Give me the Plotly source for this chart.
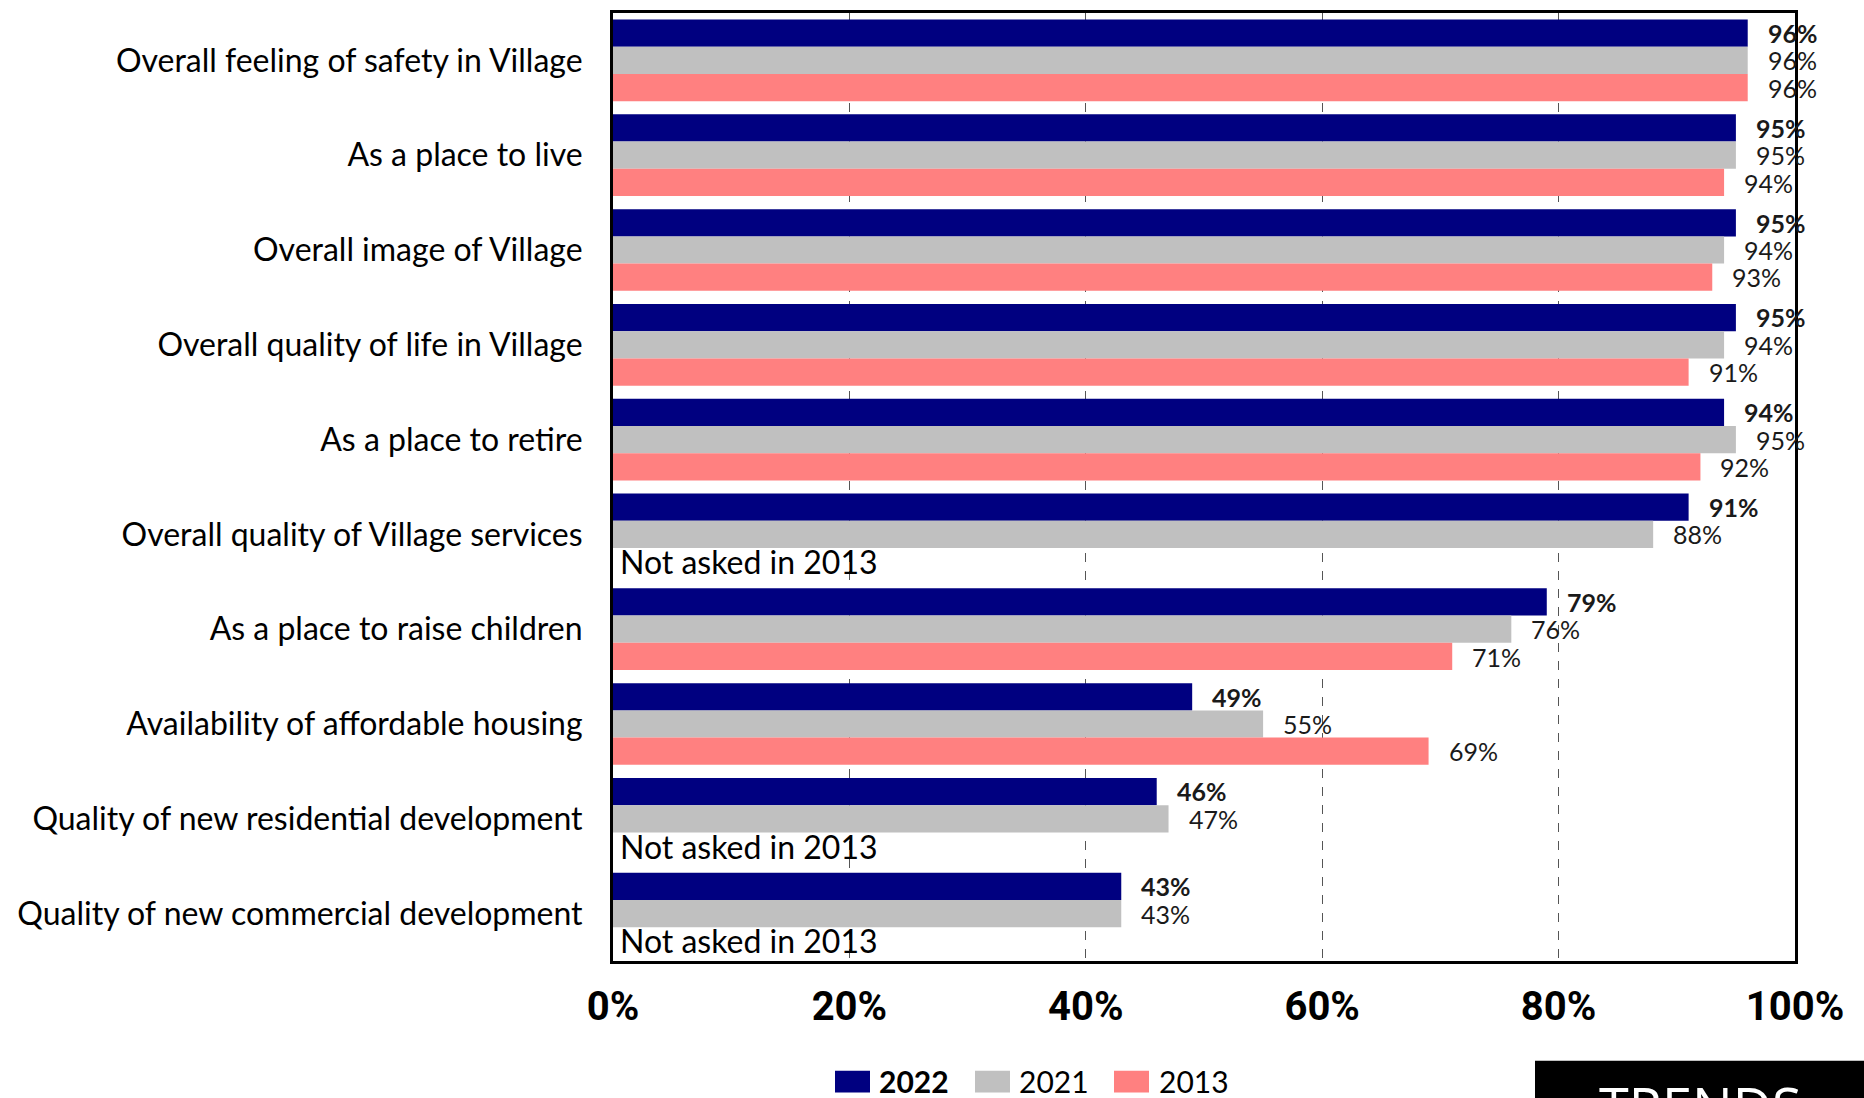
import plotly.graph_objects as go

# Survey items, listed top to bottom
categories = [
    "Overall feeling of safety in Village",
    "As a place to live",
    "Overall image of Village",
    "Overall quality of life in Village",
    "As a place to retire",
    "Overall quality of Village services",
    "As a place to raise children",
    "Availability of affordable housing",
    "Quality of new residential development",
    "Quality of new commercial development",
]

# Percent positive by survey year (None = item not asked that year)
vals_2022 = [96, 95, 95, 95, 94, 91, 79, 49, 46, 43]
vals_2021 = [96, 95, 94, 94, 95, 88, 76, 55, 47, 43]
vals_2013 = [96, 94, 93, 91, 92, None, 71, 69, None, None]

series_names = ["2022", "2021", "2013"]
series_colors = ["#000080", "#C0C0C0", "#FF8080"]
series_values = [vals_2022, vals_2021, vals_2013]

x_ticks = [0, 20, 40, 60, 80, 100]
x_tick_labels = ["0%", "20%", "40%", "60%", "80%", "100%"]

missing_note = "Not asked in 2013"

W, H = 1864, 1098
M_L, M_R, M_T, M_B = 613, 69, 10, 137
PW, PH = W - M_L - M_R, H - M_T - M_B


def px_x(p):
    return (p - M_L) / PW


def px_y(p):
    return (H - M_B - p) / PH


fig = go.Figure()
for name, color, vals in zip(series_names, series_colors, series_values):
    fig.add_trace(go.Bar(
        y=categories, x=vals, name=name, orientation="h",
        marker=dict(color=color, line=dict(width=0)),
        showlegend=False,
    ))

# Value labels beside each bar
bar_px = PH / len(categories) * (1 - 0.138) / 3
shifts = [bar_px, 0, -bar_px]
annotations = []
for i, (name, vals) in enumerate(zip(series_names, series_values)):
    for cat, v in zip(categories, vals):
        if v is None:
            if name == "2013":
                annotations.append(dict(
                    x=0, y=cat, xref="x", yref="y", text=missing_note,
                    showarrow=False, xanchor="left", yanchor="middle",
                    xshift=5, yshift=shifts[i],
                    font=dict(family="Lato", size=32, color="#000"),
                ))
            continue
        txt = f"<b>{v}%</b>" if name == "2022" else f"{v}%"
        annotations.append(dict(
            x=v, y=cat, xref="x", yref="y", text=txt,
            showarrow=False, xanchor="left", yanchor="middle",
            xshift=18, yshift=shifts[i],
            font=dict(family="Lato", size=25, color="#1a1a1a"),
        ))

# Legend drawn as swatches with labels
shapes = []
legend_items = [(835, 877), (975, 1017), (1114, 1157)]
for (sx, tx), name, color in zip(legend_items, series_names, series_colors):
    shapes.append(dict(
        type="rect", xref="paper", yref="paper",
        x0=px_x(sx), x1=px_x(sx + 35), y0=px_y(1093), y1=px_y(1071),
        fillcolor=color, line=dict(width=0),
    ))
    label = f"<b>{name}</b>" if name == "2022" else name
    annotations.append(dict(
        x=px_x(tx), y=px_y(1081), xref="paper", yref="paper", text=label,
        showarrow=False, xanchor="left", yanchor="middle",
        font=dict(family="Lato", size=30, color="#000"),
    ))

# Corner badge
shapes.append(dict(
    type="rect", xref="paper", yref="paper",
    x0=px_x(1535), x1=px_x(1870), y0=px_y(1105), y1=px_y(1061),
    fillcolor="#000", line=dict(width=0), layer="above",
))
annotations.append(dict(
    x=px_x(1700), y=px_y(1067), xref="paper", yref="paper", text="TRENDS",
    showarrow=False, xanchor="center", yanchor="top",
    font=dict(family="Open Sans", size=54, color="#fff"),
))

fig.update_layout(
    width=W, height=H,
    margin=dict(l=M_L, r=M_R, t=M_T, b=M_B, pad=0),
    paper_bgcolor="#fff", plot_bgcolor="#fff",
    barmode="group", bargap=0.138, bargroupgap=0,
    annotations=annotations, shapes=shapes,
    showlegend=False,
)
fig.update_xaxes(
    range=[0, 100], tickvals=x_ticks, ticktext=x_tick_labels,
    showgrid=True, gridcolor="#555", gridwidth=1, griddash="dash",
    zeroline=False, showline=True, linecolor="#000", linewidth=3, mirror=True,
    ticks="", ticklabelstandoff=8,
    tickfont=dict(family="Liberation Sans Narrow, Arial Narrow, Roboto", size=40, color="#000", weight="bold"),
)
fig.update_yaxes(
    autorange="reversed", showgrid=False, zeroline=False,
    showline=True, linecolor="#000", linewidth=3, mirror=True,
    ticks="", ticklabelstandoff=21,
    tickfont=dict(family="Lato", size=32, color="#000"),
)

fig.write_html("out.html")
